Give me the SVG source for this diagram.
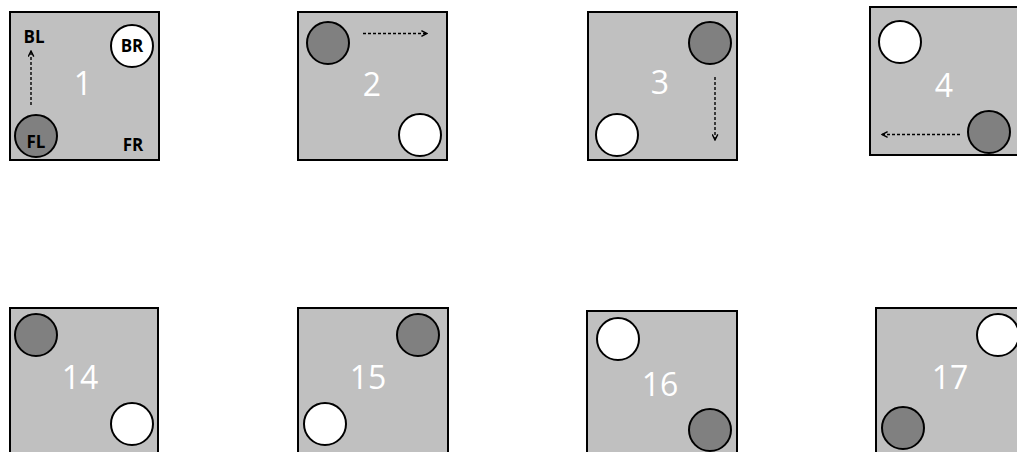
<svg xmlns="http://www.w3.org/2000/svg" width="1017" height="452" viewBox="0 0 1017 452">
<defs>
<marker id="ah" viewBox="0 0 10 10" refX="9" refY="5" markerWidth="7" markerHeight="7" orient="auto" markerUnits="userSpaceOnUse">
<path d="M1,1 L9,5 L1,9" fill="none" stroke="#000" stroke-width="2"/>
</marker>
<style>
.panel{fill:#c0c0c0;stroke:#000;stroke-width:2}
.dark{fill:#808080;stroke:#000;stroke-width:2}
.light{fill:#fff;stroke:#000;stroke-width:2}
.num{font-family:"Open Sans","Liberation Sans",sans-serif;font-size:32px;fill:#fff;text-anchor:middle}
.lab{font-family:"Open Sans","Liberation Sans",sans-serif;font-size:17px;font-weight:bold;fill:#000;text-anchor:middle}
.arr{fill:none;stroke:#000;stroke-width:1.4;stroke-dasharray:3 2;marker-end:url(#ah)}
</style>
</defs>
<rect width="1017" height="452" fill="#fff"/>
<g id="p1">
<rect class="panel" x="10" y="12" width="149" height="148"/>
<circle class="dark" cx="36" cy="136" r="21"/>
<circle class="light" cx="132" cy="46" r="21"/>
<text class="num" x="83" y="95">1</text>
<text class="lab" x="34" y="43">BL</text>
<text class="lab" x="132" y="52">BR</text>
<text class="lab" x="36" y="148">FL</text>
<text class="lab" x="133" y="151">FR</text>
</g>
<g id="p2">
<rect class="panel" x="298" y="12" width="149" height="148"/>
<circle class="dark" cx="328" cy="43" r="21"/>
<circle class="light" cx="420" cy="135" r="21"/>
<text class="num" x="372" y="96">2</text>
</g>
<g id="p3">
<rect class="panel" x="588" y="12" width="149" height="148"/>
<circle class="dark" cx="710" cy="43" r="21"/>
<circle class="light" cx="617" cy="135" r="21"/>
<text class="num" x="660" y="94">3</text>
</g>
<g id="p4">
<rect class="panel" x="870" y="7" width="150" height="148"/>
<circle class="light" cx="900" cy="42" r="21"/>
<circle class="dark" cx="989" cy="132" r="21"/>
<text class="num" x="944" y="97">4</text>
</g>
<g id="p14">
<rect class="panel" x="10" y="308" width="148" height="150"/>
<circle class="dark" cx="36" cy="335" r="21"/>
<circle class="light" cx="132" cy="424" r="21"/>
<text class="num" x="80" y="389">14</text>
</g>
<g id="p15">
<rect class="panel" x="298" y="308" width="150" height="150"/>
<circle class="dark" cx="418" cy="335" r="21"/>
<circle class="light" cx="325" cy="424" r="21"/>
<text class="num" x="368" y="389">15</text>
</g>
<g id="p16">
<rect class="panel" x="587" y="311" width="150" height="150"/>
<circle class="light" cx="618" cy="339" r="21"/>
<circle class="dark" cx="710" cy="430" r="21"/>
<text class="num" x="660" y="396">16</text>
</g>
<g id="p17">
<rect class="panel" x="876" y="308" width="150" height="150"/>
<circle class="light" cx="998" cy="335" r="21"/>
<circle class="dark" cx="903" cy="428" r="21"/>
<text class="num" x="950" y="389">17</text>
</g>
<g id="connectors">
<line class="arr" x1="31" y1="105" x2="31" y2="51"/>
<line class="arr" x1="363" y1="33.5" x2="427" y2="33.5"/>
<line class="arr" x1="715" y1="77" x2="715" y2="140"/>
<line class="arr" x1="960" y1="134.5" x2="882" y2="134.5"/>
</g>
</svg>
